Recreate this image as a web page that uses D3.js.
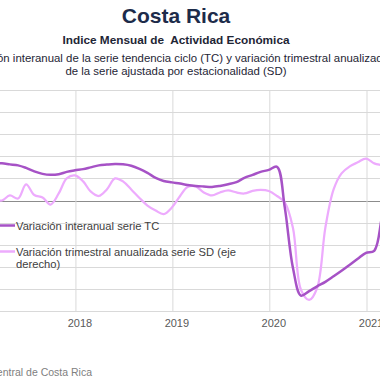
<!DOCTYPE html>
<html>
<head>
<meta charset="utf-8">
<script src="https://cdn.jsdelivr.net/npm/d3@7"></script>
<style>
  body { margin: 0; background: #fff; }
  svg { display: block; }
</style>
</head>
<body>
<div id="chart"></div>
<script>
// months from 2017-01, one value per month
const startMonth = new Date(2017, 0, 1);
const yearTicks = [2018, 2019, 2020, 2021];

// variacion interanual serie tendencia ciclo (eje izquierdo)
const tcValues = [
    3.45, 3.41, 3.36, 3.36, 3.27, 3.18, 2.95, 2.64, 2.41, 2.32, 2.38, 2.59,
    2.73, 2.84, 3.00, 3.18, 3.25, 3.30, 3.27, 3.14, 2.86, 2.50, 2.05, 1.77,
    1.64, 1.53, 1.41, 1.32, 1.27, 1.23, 1.32, 1.47, 1.66, 2.05, 2.32, 2.59,
    2.77, 3.05, -0.6, -6.1, -8.6, -8.2, -7.77, -7.36, -6.86, -6.36, -5.82, -5.27,
    -4.73, -4.55, -1.6, 3.0
];

// variacion trimestral anualizada serie SD (eje derecho)
const sdValues = [
    0.23, 1.36, 0.23, 0.0, 1.14, 0.45, 3.64, 1.25, 0.68, -0.91, 1.59, 5.0,
    5.68, 4.32, 2.05, 1.02, 2.5, 5.0, 4.32, 2.5, 0.57, -1.14, -2.27, -3.07,
    -1.59, 1.02, 3.07, 3.18, 1.82, 1.14, 1.82, 2.27, 1.82, 1.59, 2.16, 2.39,
    2.16, 1.02, -0.45, -6.2, -20.2, -22.5, -19.8, -6.14, 2.5, 6.14, 7.73, 8.64,
    9.5, 8.4, 8.0, 7.6
];

const leftTicks = d3.range(-10, 10.1, 2);
const rightDomain = [-25, 25];

const legendItems = [
    {name: "Variación interanual serie TC", lines: ["Variación interanual serie TC"]},
    {name: "Variación trimestral anualizada serie SD (eje derecho)",
     lines: ["Variación trimestral anualizada serie SD (eje", "derecho)"]}
];

const W = 380, H = 380;
const plotTop = 90, plotBottom = 311;
const darkColor = "#a652c6";
const lightColor = "#edabfd";

const months = d3.range(tcValues.length).map(i => d3.timeMonth.offset(startMonth, i));

const svg = d3.select("#chart").append("svg")
    .attr("width", W)
    .attr("height", H)
    .style("font-family", "'Liberation Sans', Arial, sans-serif");

// titulos
svg.append("text")
    .attr("x", 176).attr("y", 22.5)
    .attr("text-anchor", "middle")
    .attr("font-size", 21).attr("font-weight", "bold")
    .attr("fill", "#1d2b4a")
    .text("Costa Rica");

svg.append("text")
    .attr("x", 176).attr("y", 44)
    .attr("text-anchor", "middle")
    .attr("font-size", 11.8).attr("font-weight", "bold")
    .attr("fill", "#1e2535")
    .style("white-space", "pre")
    .text("Indice Mensual de  Actividad Económica");

svg.append("text")
    .attr("x", 176).attr("y", 62)
    .attr("text-anchor", "middle")
    .attr("font-size", 11.4)
    .attr("fill", "#1e2535")
    .text("Variación interanual de la serie tendencia ciclo (TC) y variación trimestral anualizada");

svg.append("text")
    .attr("x", 176).attr("y", 75)
    .attr("text-anchor", "middle")
    .attr("font-size", 11.4)
    .attr("fill", "#1e2535")
    .text("de la serie ajustada por estacionalidad (SD)");

// escalas
const x = d3.scaleTime()
    .domain([new Date(2017, 0, 1), new Date(2021, 0, 1)])
    .range([-22, 366]);

const yL = d3.scaleLinear().domain([-10, 10]).range([plotBottom, plotTop]);
const yR = d3.scaleLinear().domain(rightDomain).range([plotBottom, plotTop]);

// rejilla horizontal
svg.append("g")
    .selectAll("line")
    .data(leftTicks)
    .join("line")
    .attr("x1", 0).attr("x2", W)
    .attr("y1", d => Math.round(yL(d)) + 0.5)
    .attr("y2", d => Math.round(yL(d)) + 0.5)
    .attr("stroke", d => d === 0 ? "#8c8c8c" : "#d9d9d9")
    .attr("stroke-width", 1);

// rejilla vertical + etiquetas de años
const xAxis = d3.axisBottom(x)
    .tickValues(yearTicks.map(y => new Date(y, 0, 1)))
    .tickSize(-(plotBottom - plotTop))
    .tickFormat(d3.timeFormat("%Y"));

const gx = svg.append("g")
    .attr("transform", `translate(0.5,${plotBottom})`)
    .call(xAxis);
gx.select(".domain").remove();
gx.selectAll(".tick line").attr("stroke", "#d9d9d9");
gx.selectAll(".tick text")
    .attr("dx", 4)
    .attr("dy", 0)
    .attr("y", 16)
    .attr("font-size", 11)
    .attr("font-family", "'Liberation Sans', Arial, sans-serif")
    .attr("fill", "#595959");

// series
const lineTC = d3.line()
    .x((d, i) => x(months[i]))
    .y(d => yL(d))
    .curve(d3.curveCatmullRom.alpha(0.5));

const lineSD = d3.line()
    .x((d, i) => x(months[i]))
    .y(d => yR(d))
    .curve(d3.curveCatmullRom.alpha(0.5));

svg.append("path")
    .datum(sdValues)
    .attr("d", lineSD)
    .attr("fill", "none")
    .attr("stroke", lightColor)
    .attr("stroke-width", 2.25)
    .attr("stroke-linejoin", "round");

svg.append("path")
    .datum(tcValues)
    .attr("d", lineTC)
    .attr("fill", "none")
    .attr("stroke", darkColor)
    .attr("stroke-width", 2.5)
    .attr("stroke-linejoin", "round");

// leyenda
const legendY = [225.5, 251.5];
const legendColors = [darkColor, lightColor];
const legend = svg.append("g");
legendItems.forEach((item, i) => {
    const g = legend.append("g").attr("transform", `translate(0,${legendY[i]})`);
    g.append("line")
        .attr("x1", 0).attr("x2", 15)
        .attr("stroke", legendColors[i])
        .attr("stroke-width", 2.5);
    const t = g.append("text")
        .attr("x", 16).attr("y", 4)
        .attr("font-size", 11.2)
        .attr("fill", "#404040");
    item.lines.forEach((l, j) => {
        t.append("tspan")
            .attr("x", 16)
            .attr("dy", j === 0 ? 0 : 12.5)
            .text(l);
    });
});

// fuente
svg.append("text")
    .attr("x", 92).attr("y", 376)
    .attr("text-anchor", "end")
    .attr("font-size", 10.5)
    .attr("fill", "#808080")
    .text("Fuente: Banco Central de Costa Rica");
</script>
</body>
</html>
